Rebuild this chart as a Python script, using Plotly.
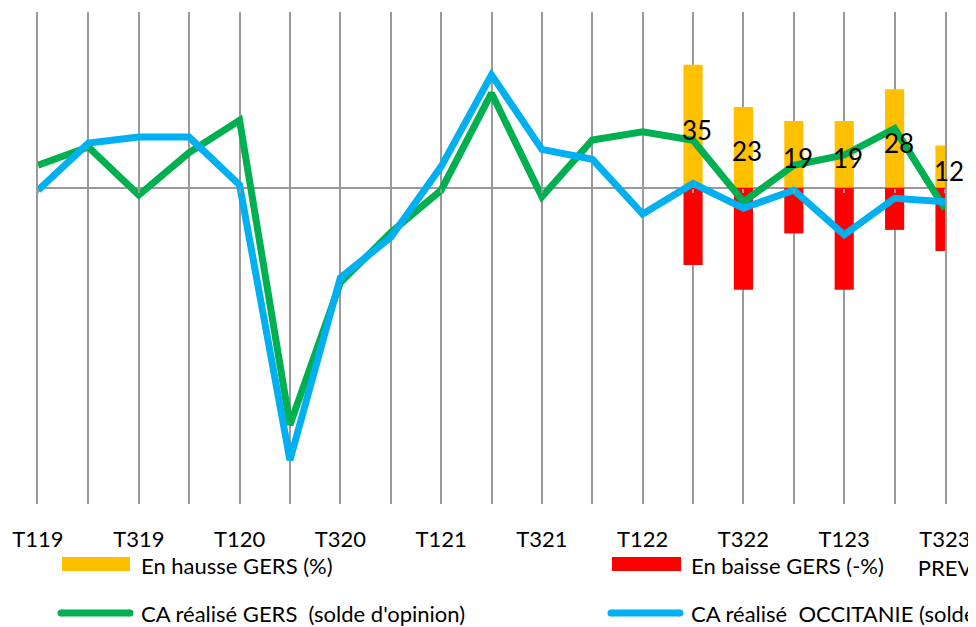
import plotly.graph_objects as go

categories = ["T119", "T219", "T319", "T419", "T120", "T220", "T320", "T420",
              "T121", "T221", "T321", "T421", "T122", "T222", "T322", "T422",
              "T123", "T223", "T323 PREV"]
hausse_gers = [None] * 13 + [35, 23, 19, 19, 28, 12]
baisse_gers = [None] * 13 + [-22, -29, -13, -29, -12, -18]
ca_gers = [6.4, 11.6, -2.1, 10, 19.2, -67.5, -27, -12.8, -0.7, 26.9, -2.6, 13.6,
           15.9, 13.5, -4, 6.4, 9.3, 16.8, -6]
ca_occitanie = [-0.7, 12.7, 14.4, 14.4, 0.8, -77.5, -25.6, -14.1, 6, 32.1, 10.9,
                8.1, -7.5, 1.2, -5.8, -0.7, -13.4, -3, -4]
# every other category carries a visible tick label
tick_text = [c.replace(" ", "<br>") if i % 2 == 0 else "" for i, c in enumerate(categories)]

names = ["En hausse GERS (%)", "En baisse GERS (-%)",
         "CA réalisé GERS  (solde d'opinion)", "CA réalisé  OCCITANIE (solde)"]
YELLOW, RED, GREEN, BLUE = "#FFC000", "#FF0000", "#00B050", "#00B0F0"
GRID = "#9a9a9a"
FONT = "Lato"

# page offset of the figure inside the browser (default body margin)
OFF = 8
W, H = 976 - OFF, 627 - OFF
# plot area in window pixels
L, R, T, B = 38, 945, 12, 504
YMIN, YMAX = -90, 50

fig = go.Figure()
fig.add_trace(go.Bar(x=categories, y=hausse_gers, name=names[0],
                     marker=dict(color=YELLOW, line=dict(width=0)), width=0.38))
fig.add_trace(go.Bar(x=categories, y=baisse_gers, name=names[1],
                     marker=dict(color=RED, line=dict(width=0)), width=0.38))
fig.add_trace(go.Scatter(x=categories, y=ca_gers, name=names[2], mode="lines",
                         line=dict(color=GREEN, width=7)))
fig.add_trace(go.Scatter(x=categories, y=ca_occitanie, name=names[3], mode="lines",
                         line=dict(color=BLUE, width=7)))
# invisible trace on x2 so the zero-axis tick marks are rendered
fig.add_trace(go.Scatter(x=categories, y=[0] * len(categories), xaxis="x2",
                         mode="lines", line=dict(width=0), hoverinfo="skip",
                         showlegend=False))

# data labels centred on the "en hausse" bars
for c, v in zip(categories, hausse_gers):
    if v is not None:
        fig.add_annotation(x=c, y=v / 2, text=str(v), showarrow=False,
                           xshift=4, yshift=-4,
                           font=dict(family=FONT, size=26, color="black"))

def px(x):
    return (x - L) / (R - L)

def py(y):
    return (B - y) / (B - T)

# custom legend (window pixel positions)
legend_items = [
    ("rect", YELLOW, 62, 130, 557, 571, 139, 565, names[0]),
    ("rect", RED, 612, 681, 557, 571, 689, 565, names[1]),
    ("line", GREEN, 61, 130, 613, 613, 139, 613, names[2]),
    ("line", BLUE, 611, 680, 613, 613, 689, 613, names[3]),
]
for kind, col, x0, x1, y0, y1, tx, ty, label in legend_items:
    if kind == "rect":
        fig.add_shape(type="rect", xref="paper", yref="paper",
                      x0=px(x0), x1=px(x1), y0=py(y1), y1=py(y0),
                      fillcolor=col, line=dict(width=0))
    else:
        fig.add_shape(type="line", xref="paper", yref="paper",
                      x0=px(x0), x1=px(x1), y0=py(y0), y1=py(y1),
                      line=dict(color=col, width=7))
        for xe in (x0, x1):
            fig.add_shape(type="circle", xref="paper", yref="paper",
                          x0=px(xe - 3.5), x1=px(xe + 3.5),
                          y0=py(y0 + 3.5), y1=py(y0 - 3.5),
                          fillcolor=col, line=dict(width=0))
    fig.add_annotation(xref="paper", yref="paper", x=px(tx), y=py(ty),
                       xanchor="left", yanchor="middle", text=label,
                       showarrow=False,
                       font=dict(family=FONT, size=22, color="black"))

fig.update_layout(
    width=W, height=H,
    margin=dict(l=L - OFF, r=W + OFF - R, t=T - OFF, b=H + OFF - B),
    paper_bgcolor="white", plot_bgcolor="white",
    barmode="relative",
    showlegend=False,
    font=dict(family=FONT, size=22, color="black"),
    xaxis=dict(type="category", categoryorder="array", categoryarray=categories,
               range=[0, len(categories) - 1],
               showgrid=True, gridcolor=GRID, gridwidth=1.5,
               tickmode="array", tickvals=categories, ticktext=tick_text,
               ticks="outside", ticklen=16, tickcolor="rgba(0,0,0,0)",
               showline=False, zeroline=False,
               tickfont=dict(family=FONT, size=22, color="black")),
    xaxis2=dict(type="category", categoryorder="array", categoryarray=categories,
                overlaying="x", matches="x", anchor="free",
                position=(0 - YMIN) / (YMAX - YMIN),
                tickmode="array", tickvals=categories,
                showgrid=False, showticklabels=False, showline=False,
                ticks="outside", ticklen=4, tickwidth=1.5, tickcolor=GRID,
                zeroline=False),
    yaxis=dict(range=[YMIN, YMAX], showgrid=False, showticklabels=False,
               zeroline=True, zerolinecolor=GRID, zerolinewidth=2,
               showline=True, mirror=True, linecolor=GRID, linewidth=1.5,
               ticks=""),
)

fig.write_html("out.html")
